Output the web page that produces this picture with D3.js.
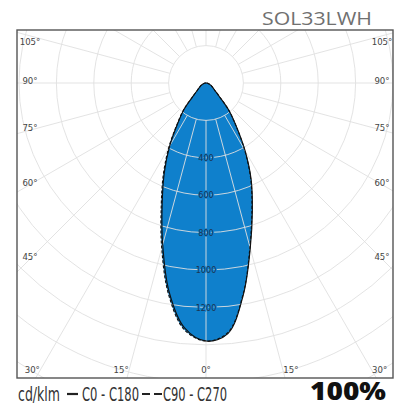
<!DOCTYPE html>
<html><head><meta charset="utf-8">
<script src="https://cdn.jsdelivr.net/npm/d3@7"></script>
<style>
html,body{margin:0;padding:0;background:#fff;}
svg{display:block;}
</style></head>
<body>
<svg id="chart" width="404" height="407"></svg>
<script>
// ---- data ----
const title = "SOL33LWH";
const gammas = [0,5,10,15,20,25,30,35,40,45,50,55,60,65,70,75,80,85,90];
const c0   = [1380,1345,1150,915,725,572,418,283,190,98,62,46,36,28,21,15,9,4,0];
const c180 = [1380,1315,1135,895,685,527,388,263,180,92,60,45,35,27,20,14,9,4,0];
const c90  = [1380,1340,1145,908,718,566,413,280,188,96,61,46,36,28,21,15,9,4,0];
const c270 = [1380,1325,1150,915,700,540,398,270,184,94,61,46,36,28,21,15,9,4,0];
const ringValues = [200,400,600,800,1000,1200,1400,1600,1800,2000,2200];
const ringLabels = [400,600,800,1000,1200];
const sideTicks = [105,90,75,60,45];
const bottomTicks = [30,15,0,15,30];
const bottomSides = [-1,-1,0,1,1];
const unitLabel = "cd/klm";
const legendSolid = "C0 - C180";
const legendDashed = "C90 - C270";
const percentLabel = "100%";

// ---- layout ----
const svg = d3.select("#chart");
const cx = 206, cy = 83;
const box = {x0:17, y0:30, x1:393, y1:378};
const r = d3.scaleLinear().domain([0,200]).range([0,37.4]);
const rad = d => d*Math.PI/180;
const blue = "#0f80cc";
const gridCol = "#e0e0e0";

svg.append("defs").append("clipPath").attr("id","clip")
  .append("rect").attr("x",box.x0).attr("y",box.y0)
  .attr("width",box.x1-box.x0).attr("height",box.y1-box.y0);

const plot = svg.append("g").attr("clip-path","url(#clip)");

function curvePoints(right,left){
  const pts = [];
  for(let i=gammas.length-1;i>=0;i--) pts.push([Math.PI - rad(gammas[i]), r(right[i])]);
  for(let i=1;i<gammas.length;i++) pts.push([Math.PI + rad(gammas[i]), r(left[i])]);
  return pts;
}
const radial = d3.lineRadial().angle(d=>d[0]).radius(d=>d[1]).curve(d3.curveCatmullRomClosed.alpha(0.5));

const g = plot.append("g").attr("transform",`translate(${cx},${cy})`);

g.append("path").attr("d",radial(curvePoints(c0,c180))).attr("fill",blue);
g.append("path").attr("d",radial(curvePoints(c90,c270))).attr("fill",blue);

g.selectAll("circle.ring").data(ringValues).enter().append("circle")
  .attr("class","ring").attr("r",d=>r(d)).attr("fill","none")
  .attr("stroke",gridCol).attr("stroke-width",0.9);

const spokes = d3.range(0,360,15);
g.selectAll("line.spoke").data(spokes).enter().append("line")
  .attr("x1",d=>r(200)*Math.sin(rad(d))).attr("y1",d=>r(200)*Math.cos(rad(d)))
  .attr("x2",d=>r(2400)*Math.sin(rad(d))).attr("y2",d=>r(2400)*Math.cos(rad(d)))
  .attr("stroke",gridCol).attr("stroke-width",0.9);

g.append("path").attr("d",radial(curvePoints(c0,c180))).attr("fill","none")
  .attr("stroke","#111").attr("stroke-width",1.1);
g.append("path").attr("d",radial(curvePoints(c90,c270))).attr("fill","none")
  .attr("stroke","#111").attr("stroke-width",1.1).attr("stroke-dasharray","3,2");

const font = "'Liberation Sans Narrow','DejaVu Sans Condensed','Roboto Condensed',sans-serif";
g.selectAll("text.rl").data(ringLabels).enter().append("text")
  .attr("x",0).attr("y",d=>r(d)).attr("dy","0.35em")
  .attr("text-anchor","middle").attr("font-family",font).attr("font-size",9)
  .attr("fill","#1b3552").attr("stroke",blue).attr("stroke-width",1.5)
  .attr("paint-order","stroke").text(d=>d);

svg.append("rect").attr("x",box.x0).attr("y",box.y0)
  .attr("width",box.x1-box.x0).attr("height",box.y1-box.y0)
  .attr("fill","none").attr("stroke","#555").attr("stroke-width",1.4);

const labelDx = 176;
[-1,1].forEach(side=>{
  svg.selectAll(null).data(sideTicks).enter().append("text")
    .attr("x",cx + side*labelDx)
    .attr("y",d=>Math.max(box.y0+12, cy + labelDx/Math.tan(rad(d)) - 2))
    .attr("dy","0.35em").attr("text-anchor","middle")
    .attr("font-family",font).attr("font-size",9.5).attr("fill","#444")
    .text(d=>d+"°");
});
svg.selectAll(null).data(bottomTicks).enter().append("text")
  .attr("x",(d,i)=>cx + bottomSides[i]*((370-cy)*Math.tan(rad(d)) + (d?8:0)))
  .attr("y",370).attr("dy","0.35em").attr("text-anchor","middle")
  .attr("font-family",font).attr("font-size",9.5).attr("fill","#444")
  .text(d=>d+"°");

svg.append("text").attr("x",262).attr("y",25)
  .attr("font-family","'Open Sans',sans-serif").attr("font-size",18.5)
  .attr("fill","#707070").attr("textLength",110).attr("lengthAdjust","spacingAndGlyphs").text(title);

const ly = 401;
const lf = 19;
svg.append("text").attr("x",18).attr("y",ly).attr("font-family",font)
  .attr("font-size",lf).attr("fill","#333").attr("textLength",42)
  .attr("lengthAdjust","spacingAndGlyphs").text(unitLabel);
svg.append("line").attr("x1",67).attr("x2",78).attr("y1",ly-7).attr("y2",ly-7)
  .attr("stroke","#222").attr("stroke-width",2.2);
svg.append("text").attr("x",82).attr("y",ly).attr("font-family",font)
  .attr("font-size",lf).attr("fill","#333").attr("textLength",57)
  .attr("lengthAdjust","spacingAndGlyphs").text(legendSolid);
svg.append("line").attr("x1",142).attr("x2",162).attr("y1",ly-7).attr("y2",ly-7)
  .attr("stroke","#222").attr("stroke-width",2.2).attr("stroke-dasharray","8,4");
svg.append("text").attr("x",163).attr("y",ly).attr("font-family",font)
  .attr("font-size",lf).attr("fill","#333").attr("textLength",64)
  .attr("lengthAdjust","spacingAndGlyphs").text(legendDashed);
svg.append("text").attr("x",310).attr("y",400)
  .attr("font-family","'Open Sans','Lato',sans-serif").attr("font-weight",800)
  .attr("font-size",25).attr("fill","#111").attr("textLength",76)
  .attr("lengthAdjust","spacingAndGlyphs").text(percentLabel);
</script>
</body></html>
